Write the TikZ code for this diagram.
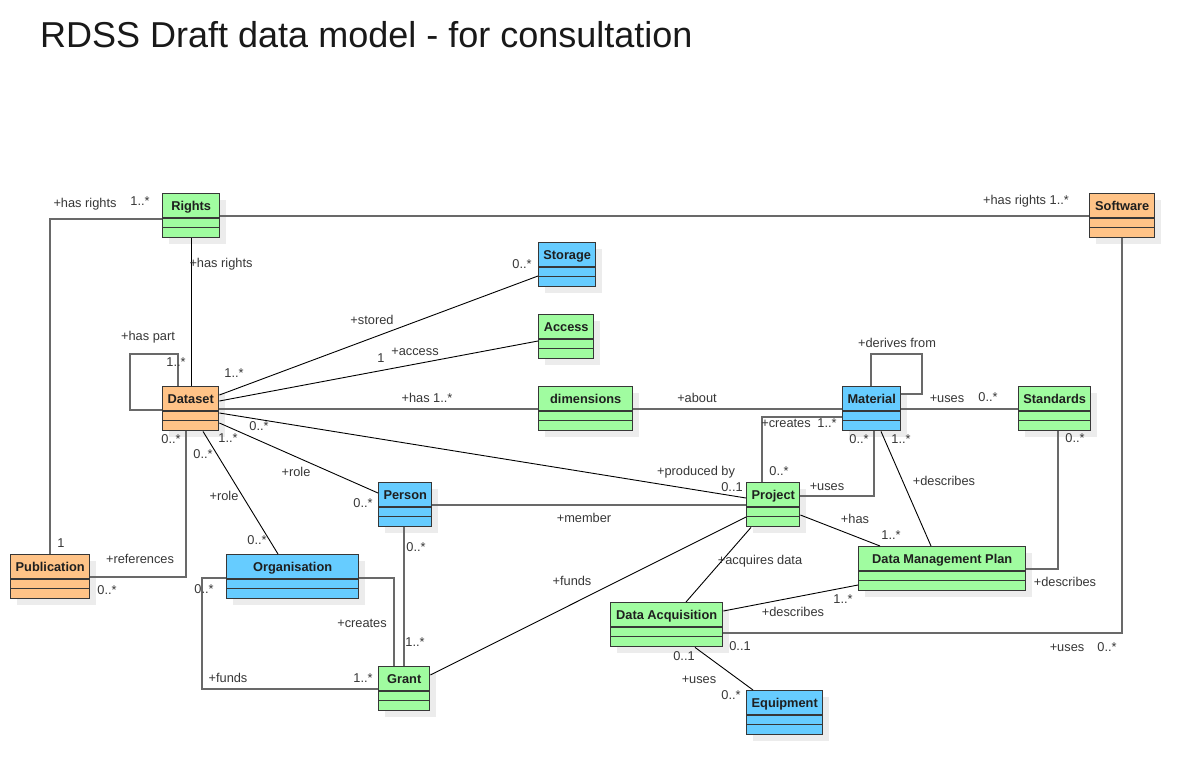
\documentclass[tikz,border=0pt]{standalone}
\usepackage{fontspec}
\setmainfont{Liberation Sans}
\usetikzlibrary{calc}
\definecolor{clsgreen}{RGB}{160,252,160}
\definecolor{clsorange}{RGB}{255,195,135}
\definecolor{clsblue}{RGB}{102,204,255}
\definecolor{clsborder}{RGB}{55,55,55}
\definecolor{shadowc}{RGB}{236,236,236}
\definecolor{lblc}{RGB}{55,55,55}
\definecolor{grayline}{RGB}{105,105,105}
\tikzset{
  clsbox/.style={draw=clsborder, line width=1.4pt, inner sep=0pt, minimum height=44pt, anchor=north west},
  clsdiv/.style={draw=clsborder, line width=1.4pt},
  clsname/.style={font=\bfseries\fontsize{12.8}{14}\selectfont, text=black!88, inner sep=0pt, anchor=base, yshift=-4.6pt},
  lbl/.style={font=\fontsize{12.8}{14}\selectfont, text=lblc, inner sep=0pt, anchor=base, yshift=-4.5pt},
  ortho/.style={draw=grayline, line width=1.6pt},
  diag/.style={draw=black, line width=0.9pt},
}
\newcommand{\umlcls}[6]{%
  \fill[shadowc] (#2+7,#3+7) rectangle ++(#4,44);
  \node[clsbox, fill=#5, minimum width=#4pt] (#1) at (#2,#3) {};
  \draw[clsdiv] ([yshift=-25pt]#1.north west) -- ([yshift=-25pt]#1.north east);
  \draw[clsdiv] ([yshift=-34.5pt]#1.north west) -- ([yshift=-34.5pt]#1.north east);
  \node[clsname] (#1-name) at ([yshift=-12.5pt]#1.north) {#6};
}
\begin{document}
\begin{tikzpicture}[x=1pt,y=-1pt]
\useasboundingbox[fill=white] (0,0) rectangle (1193,774);
\node[font=\fontsize{36}{40}\selectfont, text=black!90, inner sep=0pt, anchor=base west] (title) at (40,47) {RDSS Draft data model - for consultation};

% classes
\umlcls{rights}{162}{193}{57}{clsgreen}{Rights}
\umlcls{software}{1089}{193}{65}{clsorange}{Software}
\umlcls{storage}{538}{242}{57}{clsblue}{Storage}
\umlcls{access}{538}{314}{55}{clsgreen}{Access}
\umlcls{dimensions}{538}{386}{94}{clsgreen}{dimensions}
\umlcls{dataset}{162}{386}{56}{clsorange}{Dataset}
\umlcls{material}{842}{386}{58}{clsblue}{Material}
\umlcls{standards}{1018}{386}{72}{clsgreen}{Standards}
\umlcls{person}{378}{482}{53}{clsblue}{Person}
\umlcls{project}{746}{482}{53}{clsgreen}{Project}
\umlcls{publication}{10}{554}{79}{clsorange}{Publication}
\umlcls{organisation}{226}{554}{132}{clsblue}{Organisation}
\umlcls{dmp}{858}{546}{167}{clsgreen}{Data Management Plan}
\umlcls{dacq}{610}{602}{112}{clsgreen}{Data Acquisition}
\umlcls{grant}{378}{666}{51}{clsgreen}{Grant}
\umlcls{equipment}{746}{690}{76}{clsblue}{Equipment}

% connectors
\draw[ortho] ([yshift=-3pt]rights.west) -| (publication.north);
\draw[ortho] (rights.east) -- (software.west);
\draw[diag] (rights.south) -- (rights.south |- dataset.north);
\draw[ortho] ([yshift=-24pt]dataset.north west) -- ++(-32,0) -- ++(0,-56) -| ([xshift=16pt]dataset.north west);
\draw[diag] ([yshift=-9pt]dataset.north east) -- ([yshift=-34pt]storage.north west);
\draw[diag] ([yshift=-15pt]dataset.north east) -- ([yshift=-27pt]access.north west);
\draw[ortho] (dataset.east) -- (dimensions.west);
\draw[ortho] (dimensions.east) -- (material.west);
\draw[diag] ([yshift=-27pt]dataset.north east) -- ([yshift=-16pt]project.north west);
\draw[diag] ([yshift=-37pt]dataset.north east) -- ([yshift=-11pt]person.north west);
\draw[diag] ([xshift=41pt]dataset.south west) -- ([xshift=52pt]organisation.north west);
\draw[ortho] ([xshift=24pt]dataset.south west) |- (publication.east);
\draw[ortho] (person.east) -- (project.west);
\draw[ortho] (grant.north |- person.south) -- (grant.north);
\draw[ortho] ([yshift=-24pt]organisation.north east) -| ([xshift=16pt]grant.north west);
\draw[ortho] ([yshift=-24pt]organisation.north west) -- ++(-24,0) |- (grant.west);
\draw[diag] ([yshift=-9pt]grant.north east) -- ([yshift=-35pt]project.north west);
\draw[ortho] ([xshift=16pt]project.north west) |- ([yshift=-31pt]material.north west);
\draw[ortho] ([yshift=-14pt]project.north east) -| ([xshift=32pt]material.south west);
\draw[ortho] ([xshift=29pt]material.north west) -- ++(0,-32) -- ++(51,0) -- ++(0,40) -- ([yshift=-8pt]material.north east);
\draw[ortho] (material.east) -- (standards.west);
\draw[diag] ([xshift=39pt]material.south west) -- ([xshift=73pt]dmp.north west);
\draw[ortho] ([xshift=40pt]standards.south west) |- (dmp.east);
\draw[diag] ([yshift=-33pt]project.north east) -- ([xshift=22pt]dmp.north west);
\draw[diag] ([xshift=5pt]project.south west) -- ([xshift=76pt]dacq.north west);
\draw[diag] ([yshift=-39pt]dmp.north west) -- ([yshift=-9pt]dacq.north east);
\draw[ortho] ([yshift=-31pt]dacq.north east) -| (software.south);
\draw[diag] ([xshift=85pt]dacq.south west) -- ([xshift=7pt]equipment.north west);

% labels
\node[lbl] (l1) at (85,203) {+has rights};
\node[lbl] (l2) at (140,201) {1..*};
\node[lbl] (l3) at (1026,200) {+has rights 1..*};
\node[lbl] (l4) at (221,263) {+has rights};
\node[lbl] (l5) at (148,336) {+has part};
\node[lbl] (l6) at (176,362) {1..*};
\node[lbl] (l7) at (234,373) {1..*};
\node[lbl] (l8) at (372,320) {+stored};
\node[lbl] (l9) at (522,264) {0..*};
\node[lbl] (l10) at (381,358) {1};
\node[lbl] (l11) at (415,351) {+access};
\node[lbl] (l12) at (427,398) {+has 1..*};
\node[lbl] (l13) at (697,398) {+about};
\node[lbl] (l14) at (786,423) {+creates};
\node[lbl] (l15) at (827,423) {1..*};
\node[lbl] (l16) at (859,439) {0..*};
\node[lbl] (l17) at (901,439) {1..*};
\node[lbl] (l18) at (897,343) {+derives from};
\node[lbl] (l19) at (947,398) {+uses};
\node[lbl] (l20) at (988,397) {0..*};
\node[lbl] (l21) at (1075,438) {0..*};
\node[lbl] (l22) at (779,471) {0..*};
\node[lbl] (l23) at (827,486) {+uses};
\node[lbl] (l24) at (944,481) {+describes};
\node[lbl] (l25) at (696,471) {+produced by};
\node[lbl] (l26) at (732,487) {0..1};
\node[lbl] (l27) at (259,426) {0..*};
\node[lbl] (l28) at (171,439) {0..*};
\node[lbl] (l29) at (228,438) {1..*};
\node[lbl] (l30) at (203,454) {0..*};
\node[lbl] (l31) at (296,472) {+role};
\node[lbl] (l32) at (224,496) {+role};
\node[lbl] (l33) at (363,503) {0..*};
\node[lbl] (l34) at (257,540) {0..*};
\node[lbl] (l35) at (61,543) {1};
\node[lbl] (l36) at (140,559) {+references};
\node[lbl] (l37) at (107,590) {0..*};
\node[lbl] (l38) at (204,589) {0..*};
\node[lbl] (l39) at (362,623) {+creates};
\node[lbl] (l40) at (416,547) {0..*};
\node[lbl] (l41) at (415,642) {1..*};
\node[lbl] (l42) at (228,678) {+funds};
\node[lbl] (l43) at (363,678) {1..*};
\node[lbl] (l44) at (584,518) {+member};
\node[lbl] (l45) at (572,581) {+funds};
\node[lbl] (l46) at (855,519) {+has};
\node[lbl] (l47) at (891,535) {1..*};
\node[lbl] (l48) at (760,560) {+acquires data};
\node[lbl] (l49) at (843,599) {1..*};
\node[lbl] (l50) at (793,612) {+describes};
\node[lbl] (l51) at (1065,582) {+describes};
\node[lbl] (l52) at (740,646) {0..1};
\node[lbl] (l53) at (684,656) {0..1};
\node[lbl] (l54) at (699,679) {+uses};
\node[lbl] (l55) at (731,695) {0..*};
\node[lbl] (l56) at (1067,647) {+uses};
\node[lbl] (l57) at (1107,647) {0..*};
\end{tikzpicture}
\end{document}
